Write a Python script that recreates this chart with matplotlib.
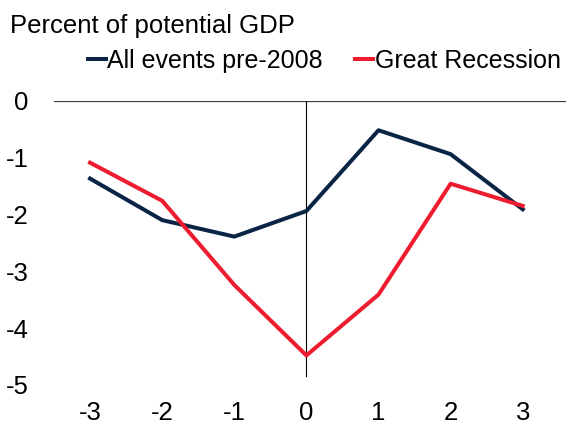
import matplotlib
matplotlib.use("Agg")
import matplotlib.pyplot as plt

plt.rcParams['font.family'] = ['Liberation Sans', 'DejaVu Sans']
plt.rcParams['axes.unicode_minus'] = False

quarters = [-3, -2, -1, 0, 1, 2, 3]
all_events = [-1.37, -2.10, -2.39, -1.94, -0.52, -0.94, -1.91]
great_recession = [-1.09, -1.76, -3.24, -4.48, -3.41, -1.46, -1.85]
yticks = [0, -1, -2, -3, -4, -5]

navy = '#0A2446'
red = '#EE1C2E'
FS = 18.5

W, H = 566, 424
fig = plt.figure(figsize=(W / 100, H / 100), dpi=100)
left, right = 54 / W, 1.0
top, bottom = 1 - 100.7 / H, 1 - 385 / H
ax = fig.add_axes([left, bottom, right - left, top - bottom])

ax.plot(quarters, all_events, color=navy, lw=2.9, label='All events pre-2008')
ax.plot(quarters, great_recession, color=red, lw=2.9, label='Great Recession')

ax.axhline(0, color='#404040', lw=0.9, zorder=1)
ax.plot([0, 0], [0, -4.85], color='black', lw=0.8, zorder=1)

ax.set_xlim(-3.5, 3.6)
ax.set_ylim(-5, 0)
ax.set_yticks(yticks)
ax.set_yticklabels([str(v) for v in yticks])
ax.set_xticks(quarters)
ax.set_xticklabels([str(v) for v in quarters])
for s in ax.spines.values():
    s.set_visible(False)
ax.tick_params(axis='both', length=0, labelsize=FS, colors='black')
ax.tick_params(axis='y', pad=18.5)
ax.tick_params(axis='x', pad=11.5)

fig.text(10 / W, 1 - 32.7 / H, 'Percent of potential GDP', fontsize=FS, va='baseline', ha='left')

leg = fig.legend(loc='center left', bbox_to_anchor=(88 / W, 1 - 61 / H), ncol=2, frameon=False,
                 fontsize=18, handlelength=0.72, handletextpad=0.05, columnspacing=1.3,
                 borderaxespad=0, borderpad=0)

fig.savefig('out.png', dpi=100)
